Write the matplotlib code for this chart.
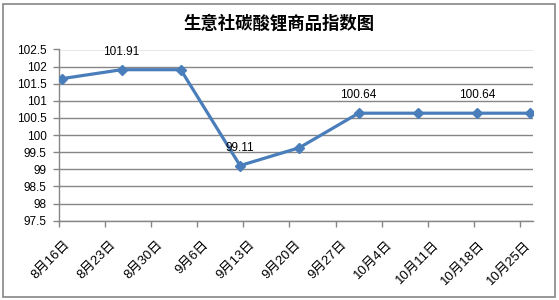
import matplotlib
matplotlib.use("Agg")
import matplotlib.pyplot as plt
import matplotlib.patches as patches
import matplotlib.transforms as mtransforms
import numpy as np

# data
dates = ["2013-08-16", "2013-08-25", "2013-09-03", "2013-09-12", "2013-09-21",
         "2013-09-30", "2013-10-09", "2013-10-18", "2013-10-26"]
values = [101.65, 101.91, 101.91, 99.11, 99.63, 100.64, 100.64, 100.64, 100.64]
labelled = [1, 3, 5, 7]
tick_labels = ["8月16日", "8月23日", "8月30日", "9月6日", "9月13日", "9月20日",
               "9月27日", "10月4日", "10月11日", "10月18日", "10月25日"]
title = "生意社碳酸锂商品指数图"

start = np.datetime64("2013-08-16")
end = np.datetime64("2013-10-27")
days = (np.array(dates, dtype="datetime64[D]") - start).astype(int) + 0.5
span = int((end - start).astype(int))

fonts = ["Liberation Sans", "Noto Sans CJK SC"]
plt.rcParams["font.family"] = fonts
grey = "#868686"
blue = "#4A7EBB"

fig = plt.figure(figsize=(5.59, 3.0), dpi=100)
fig.patches.append(patches.Rectangle((3 / 559, 3 / 300), 552 / 559, 293 / 300,
                                     transform=fig.transFigure, fill=False,
                                     edgecolor=grey, linewidth=1.2))
ax = fig.add_axes([59 / 559, 1 - 220.7 / 300, 474 / 559, 171.2 / 300])

ax.plot(days, values, color=blue, linewidth=2.3, marker="D", markersize=5.5,
        markerfacecolor=blue, markeredgecolor=blue, zorder=3)
for i in labelled:
    ax.annotate(f"{values[i]:.2f}", (days[i], values[i]), xytext=(0, 13),
                textcoords="offset points", ha="center", va="center",
                fontsize=8.5, zorder=4)

ax.set_xlim(0, span)
ax.set_ylim(97.5, 102.5)
ax.set_yticks(np.arange(97.5, 102.51, 0.5))
ax.set_yticklabels([f"{v:g}" for v in np.arange(97.5, 102.51, 0.5)], fontsize=8.5)
ax.set_xticks(np.arange(len(tick_labels)) * 7)
ax.set_xticklabels(tick_labels, rotation=45, ha="right", va="top",
                   rotation_mode="anchor", fontsize=9.5)
ax.tick_params(axis="both", color=grey, length=4, width=1)
ax.tick_params(axis="y", pad=5)
ax.tick_params(axis="x", pad=9)
shift = mtransforms.ScaledTranslation(5 / 100, 0, fig.dpi_scale_trans)
for lbl in ax.get_xticklabels():
    lbl.set_transform(lbl.get_transform() + shift)
ax.grid(axis="y", color=grey, linewidth=1)
ax.set_axisbelow(True)
for side in ["top", "right"]:
    ax.spines[side].set_visible(False)
for side in ["left", "bottom"]:
    ax.spines[side].set_color(grey)
    ax.spines[side].set_linewidth(1)

fig.text(0.5, 1 - 24 / 300, title, ha="center", va="center", fontsize=12.5,
         fontweight="bold", family=["Noto Sans CJK SC"])

fig.savefig("out.png", dpi=100)
